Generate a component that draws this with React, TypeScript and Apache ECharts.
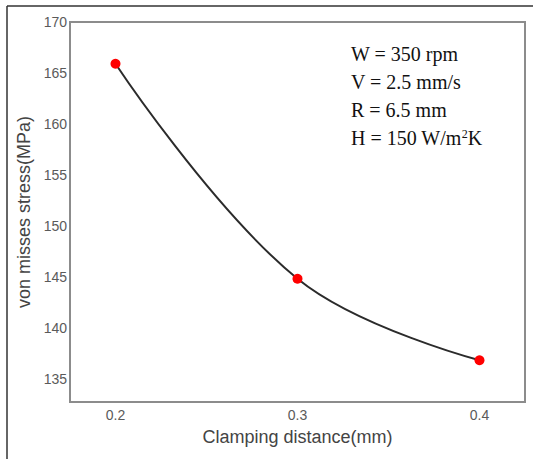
import React, { useEffect, useRef } from "react";
import * as echarts from "echarts";

const clampingDistance = [0.2, 0.3, 0.4];
const vonMisesStress = [165.9, 144.8, 136.8];
const yTicks = [135, 140, 145, 150, 155, 160, 165, 170];
const xTicks = [0.2, 0.3, 0.4];
const annotationLines = ["W = 350 rpm", "V = 2.5 mm/s", "R = 6.5 mm"];

export default function App() {
  const ref = useRef<HTMLDivElement>(null);
  useEffect(() => {
    document.body.style.margin = "0";
    const chart = echarts.init(ref.current!, null, { renderer: "svg" });
    const data = clampingDistance.map((x, i) => [x, vonMisesStress[i]]);
    chart.setOption({
      animation: false,
      backgroundColor: "#ffffff",
      grid: {
        left: 70,
        top: 22,
        right: 8,
        bottom: 57,
        show: true,
        borderColor: "#8c8c8c",
        borderWidth: 2,
      },
      xAxis: {
        type: "value",
        min: 0.175,
        max: 0.425,
        name: "Clamping distance(mm)",
        nameLocation: "middle",
        nameGap: 26,
        nameTextStyle: { fontFamily: "Arial, Liberation Sans", fontSize: 18, color: "#444" },
        splitLine: { show: false },
        axisTick: { show: false },
        axisLine: { show: true, lineStyle: { color: "#8c8c8c", width: 2 } },
        axisLabel: {
          margin: 6,
          fontFamily: "Arial, Liberation Sans",
          fontSize: 14,
          color: "#5a5a5a",
          customValues: xTicks,
          formatter: (v: number) => v.toFixed(1),
        },
      },
      yAxis: {
        type: "value",
        min: 132.7,
        max: 170,
        name: "von misses stress(MPa)",
        nameLocation: "middle",
        nameGap: 32,
        nameTextStyle: { fontFamily: "Arial, Liberation Sans", fontSize: 18, color: "#444" },
        splitLine: { show: false },
        axisTick: { show: false },
        axisLine: { show: true, lineStyle: { color: "#8c8c8c", width: 2 } },
        axisLabel: {
          margin: 3,
          fontFamily: "Arial, Liberation Sans",
          fontSize: 14,
          color: "#5a5a5a",
          customValues: yTicks,
        },
      },
      series: [
        {
          type: "line",
          data,
          smooth: 0.4,
          lineStyle: { color: "#2b2b2b", width: 2 },
          symbol: "circle",
          symbolSize: 10,
          itemStyle: { color: "#ff0000" },
          z: 3,
        },
      ],
      graphic: [
        {
          type: "line",
          shape: { x1: 7, y1: 6, x2: 533, y2: 6 },
          style: { stroke: "#333", lineWidth: 1.5 },
        },
        {
          type: "line",
          shape: { x1: 7, y1: 6, x2: 7, y2: 459 },
          style: { stroke: "#333", lineWidth: 1.5 },
        },
        ...annotationLines.map((t, i) => ({
          type: "text",
          left: 351,
          top: 44 + i * 28,
          style: {
            text: t,
            font: "20px 'Liberation Serif', 'Times New Roman', serif",
            fill: "#111",
          },
        })),
        {
          type: "text",
          left: 351,
          top: 44 + 3 * 28,
          style: {
            text: "{n|H = 150 W/m}{s|2}{n|K}",
            rich: {
              n: { font: "20px 'Liberation Serif', 'Times New Roman', serif", fill: "#111" },
              s: {
                font: "12px 'Liberation Serif', 'Times New Roman', serif",
                fill: "#111",
                verticalAlign: "top",
                padding: [0, 0, 8, 0],
              },
            },
          },
        },
      ],
    });
    return () => chart.dispose();
  }, []);
  return <div ref={ref} style={{ width: 533, height: 459 }} />;
}
